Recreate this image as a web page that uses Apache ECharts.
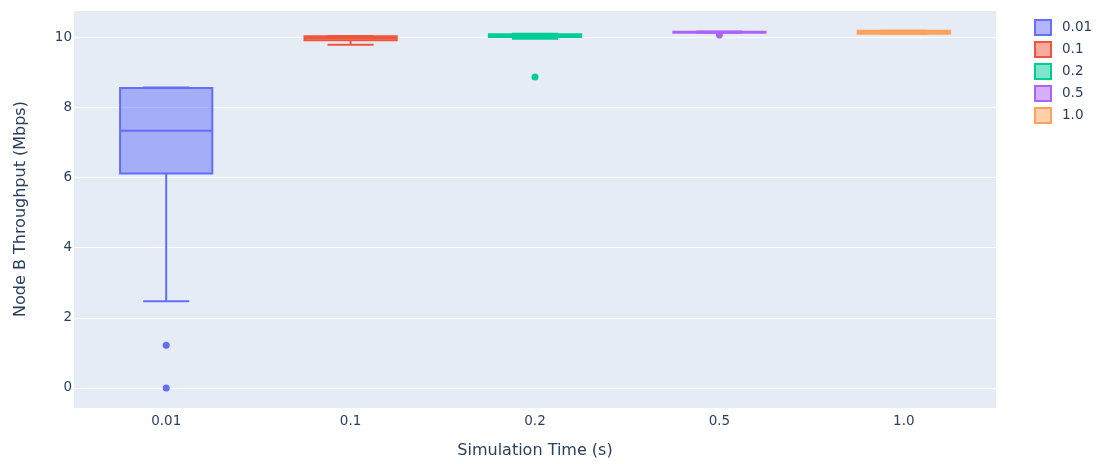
<!DOCTYPE html>
<html>
<head>
<meta charset="utf-8">
<script src="https://cdn.jsdelivr.net/npm/echarts@6/dist/echarts.min.js"></script>
<style>html,body{margin:0;padding:0;background:#fff}#c{width:1099px;height:464px}</style>
</head>
<body>
<div id="c"></div>
<script>
const categories = ['0.01', '0.1', '0.2', '0.5', '1.0'];
// [min, Q1, median, Q3, max]
const box001 = [2.47, 6.11, 7.33, 8.55, 8.56];
const box01 = [9.78, 9.91, 9.97, 10.02, 10.03];
const box02 = [9.95, 10.0, 10.05, 10.08, 10.09];
const box05 = [10.12, 10.12, 10.14, 10.15, 10.16];
const box10 = [10.09, 10.09, 10.14, 10.18, 10.18];
const outliers001 = [1.22, 0.0];
const outliers01 = [];
const outliers02 = [8.86];
const outliers05 = [10.06];
const outliers10 = [];
const colors = ['#636efa', '#EF553B', '#00cc96', '#ab63fa', '#FFA15A'];

const boxes = [box001, box01, box02, box05, box10];
const outs = [outliers001, outliers01, outliers02, outliers05, outliers10];
const FONT = '"DejaVu Sans", Verdana, sans-serif';

function hexToRgba(h, a) {
  const n = parseInt(h.slice(1), 16);
  return 'rgba(' + ((n >> 16) & 255) + ',' + ((n >> 8) & 255) + ',' + (n & 255) + ',' + a + ')';
}

function renderBox(params, api) {
  const xi = api.value(0);
  const band = api.size([1, 0])[0];
  const hw = band * 0.25, cw = band * 0.125;
  const pMin = api.coord([xi, api.value(1)]);
  const pQ1 = api.coord([xi, api.value(2)]);
  const pMed = api.coord([xi, api.value(3)]);
  const pQ3 = api.coord([xi, api.value(4)]);
  const pMax = api.coord([xi, api.value(5)]);
  const cx = pMin[0];
  const color = api.visual('color');
  const st = { stroke: color, lineWidth: 2, fill: null };
  return {
    type: 'group',
    children: [
      { type: 'rect', shape: { x: cx - hw, y: pQ3[1], width: hw * 2, height: pQ1[1] - pQ3[1] },
        style: { fill: hexToRgba(color, 0.5), stroke: color, lineWidth: 2 } },
      { type: 'line', shape: { x1: cx - hw, y1: pMed[1], x2: cx + hw, y2: pMed[1] }, style: st },
      { type: 'line', shape: { x1: cx, y1: pQ1[1], x2: cx, y2: pMin[1] }, style: st },
      { type: 'line', shape: { x1: cx, y1: pQ3[1], x2: cx, y2: pMax[1] }, style: st },
      { type: 'line', shape: { x1: cx - cw, y1: pMin[1], x2: cx + cw, y2: pMin[1] }, style: st },
      { type: 'line', shape: { x1: cx - cw, y1: pMax[1], x2: cx + cw, y2: pMax[1] }, style: st }
    ]
  };
}

const series = [];
categories.forEach((cat, i) => {
  series.push({
    name: cat,
    type: 'custom',
    renderItem: renderBox,
    itemStyle: { color: colors[i] },
    encode: { x: 0, y: [1, 2, 3, 4, 5] },
    data: [[i].concat(boxes[i])],
    z: 3
  });
  series.push({
    name: cat,
    type: 'scatter',
    symbolSize: 7,
    itemStyle: { color: colors[i], opacity: 1 },
    data: outs[i].map(v => [i, v]),
    z: 4
  });
});

const chart = echarts.init(document.getElementById('c'));
chart.setOption({
  animation: false,
  textStyle: { fontFamily: FONT },
  grid: { left: 74, right: 103, top: 10, bottom: 55, show: true, backgroundColor: '#E5ECF6', borderWidth: 0 },
  legend: {
    orient: 'vertical',
    left: 1029,
    top: 14,
    itemWidth: 16,
    itemHeight: 15,
    itemGap: 5,
    textStyle: { color: '#2a3f5f', fontSize: 13.5, fontFamily: FONT, padding: [0, 0, 0, 6] },
    data: categories.map((c, i) => ({
      name: c,
      icon: 'rect',
      itemStyle: { color: hexToRgba(colors[i], 0.5), borderColor: colors[i], borderWidth: 2 }
    }))
  },
  xAxis: {
    type: 'category',
    data: categories,
    name: 'Simulation Time (s)',
    nameLocation: 'middle',
    nameGap: 35,
    nameTextStyle: { color: '#2a3f5f', fontSize: 16, fontFamily: FONT },
    axisLine: { show: false },
    axisTick: { show: false },
    axisLabel: { color: '#2a3f5f', fontSize: 13.5, margin: 6, fontFamily: FONT },
    splitLine: { show: false }
  },
  yAxis: {
    type: 'value',
    min: -0.57,
    max: 10.77,
    name: 'Node B Throughput (Mbps)',
    nameLocation: 'middle',
    nameGap: 45,
    nameTextStyle: { color: '#2a3f5f', fontSize: 16, fontFamily: FONT },
    axisLine: { show: false },
    axisTick: { show: false },
    axisLabel: {
      color: '#2a3f5f', fontSize: 13.5, margin: 2, fontFamily: FONT,
      formatter: v => (Math.abs(v - Math.round(v)) < 1e-6 && Math.round(v) % 2 === 0) ? String(Math.round(v)) : ''
    },
    splitLine: { show: true, lineStyle: { color: '#ffffff', width: 1 } }
  },
  series: series
});
</script>
</body>
</html>
